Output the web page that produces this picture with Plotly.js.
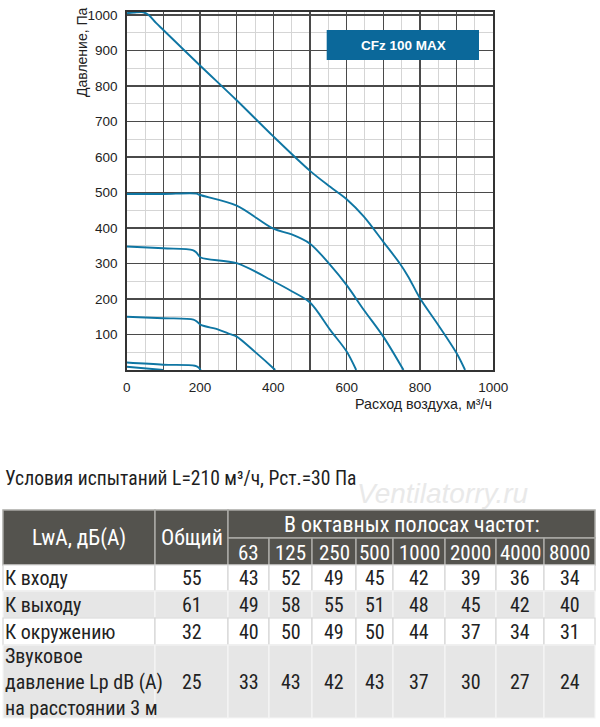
<!DOCTYPE html>
<html>
<head>
<meta charset="utf-8">
<script src="https://cdn.plot.ly/plotly-3.0.1.min.js"></script>
<style>
html,body{margin:0;padding:0;background:#fff;}
#chart{width:600px;height:727px;}
</style>
</head>
<body>
<div id="chart"></div>
<script>
// ---------- Chart data (flow m³/h, pressure Pa) ----------
const curve1Flow = [0, 20, 45, 60, 80, 100, 200, 300, 400, 500, 555, 600, 647, 700, 745, 768, 800, 847, 900, 923];
const curve1Pres = [1005, 1007, 1008, 1000, 978, 958, 858, 760, 658, 561, 516, 481, 432, 361, 300, 263, 202, 131, 47, 0];
const curve2Flow = [0, 100, 190, 200, 300, 400, 450, 500, 555, 600, 647, 700, 755];
const curve2Pres = [496, 496, 497, 493, 463, 398, 382, 356, 296, 239, 169, 94, 0];
const curve3Flow = [0, 100, 180, 190, 202, 300, 400, 450, 500, 555, 600, 626];
const curve3Pres = [348, 343, 338, 331, 317, 301, 250, 222, 190, 113, 52, 0];
const curve4Flow = [0, 100, 182, 192, 202, 250, 282, 300, 350, 400, 405];
const curve4Pres = [150, 146, 142, 136, 127, 114, 101, 94, 51, 5, 0];
const curve5Flow = [0, 100, 186, 196, 202];
const curve5Pres = [21, 15, 12, 7, 0];
const curve6Flow = [0, 100];
const curve6Pres = [9, 0];

const xTickVals = [0, 100, 200, 300, 400, 500, 600, 700, 800, 900, 1000];
const xTickText = ['0', '', '200', '', '400', '', '600', '', '800', '', '1000'];
const yTickVals = [100, 200, 300, 400, 500, 600, 700, 800, 900, 1000];
const yTickText = ['100', '200', '300', '400', '500', '600', '700', '800', '900', '1000'];

const modelLabel = 'CFz 100 MAX';
const xTitle = 'Расход воздуха, м³/ч';
const yTitle = 'Давление, Па';

// ---------- Table data ----------
const tableTitle = 'Условия испытаний L=210 м³/ч, Рст.=30 Па';
const headLwA = 'LwA, дБ(А)';
const headTotal = 'Общий';
const headOctave = 'В октавных полосах частот:';
const freqLabels = ['63', '125', '250', '500', '1000', '2000', '4000', '8000'];
const rowLabels = ['К входу', 'К выходу', 'К окружению', 'Звуковое<br>давление Lp dB (A)<br>на расстоянии 3 м'];
const totals = [55, 61, 32, 25];
const inletValues = [43, 52, 49, 45, 42, 39, 36, 34];
const outletValues = [49, 58, 55, 51, 48, 45, 42, 40];
const surroundValues = [40, 50, 49, 50, 44, 37, 34, 31];
const pressure3mValues = [33, 43, 42, 43, 37, 30, 27, 24];
const rowValues = [inletValues, outletValues, surroundValues, pressure3mValues];
const watermark = 'Ventilatorry.ru';

// ---------- Layout geometry ----------
const W = 600, H = 727;
const px = x => x / W;
const py = y => 1 - y / H;
const plotL = 126.7, plotR = 493.3, plotT = 11.5, plotB = 370;

const colEdges = [3, 155, 228, 269, 312, 356, 393, 445, 496, 544, 595];
const headTop = 510, headMid = 538, headBot = 565;
const rowEdges = [565, 591, 618, 645, 718];
const rowFills = ['#ffffff', '#e6e6e6', '#ffffff', '#e6e6e6'];

const lineColor = '#0f76a3';
const narrow = 'Roboto Condensed, Fira Sans Condensed, DejaVu Sans Condensed, sans-serif';
const sans = 'Liberation Sans, Arial, sans-serif';

function curve(x, y) {
  return {x: x, y: y, type: 'scatter', mode: 'lines', xaxis: 'x', yaxis: 'y',
    line: {color: lineColor, width: 1.9, shape: 'spline', smoothing: 0.9},
    hoverinfo: 'skip', showlegend: false};
}
const traces = [
  curve(curve1Flow, curve1Pres), curve(curve2Flow, curve2Pres), curve(curve3Flow, curve3Pres),
  curve(curve4Flow, curve4Pres), curve(curve5Flow, curve5Pres), curve(curve6Flow, curve6Pres)
];

const shapes = [];
const annotations = [];

function rect(x0, y0, x1, y1, fill, line, lw) {
  shapes.push({type: 'rect', xref: 'paper', yref: 'paper', x0: px(x0), x1: px(x1), y0: py(y0), y1: py(y1),
    fillcolor: fill, line: {color: line, width: lw === undefined ? 1 : lw}, layer: 'above'});
}
function text(t, x, y, opts) {
  opts = opts || {};
  annotations.push(Object.assign({text: t, xref: 'paper', yref: 'paper', x: px(x), y: py(y),
    showarrow: false, xanchor: 'center', yanchor: 'middle', borderpad: 0,
    font: {family: narrow, size: 20, color: '#222'}}, opts));
}

// Model label box
rect(326.7, 30, 479, 60, '#0b689a', '#0b689a', 0);
text('<b>' + modelLabel + '</b>', 403, 45.5, {font: {family: sans, size: 13.5, color: '#ffffff'}});

// Axis titles
text(xTitle, 493, 404, {xanchor: 'right', font: {family: sans, size: 14.3, color: '#222'}});
text(yTitle, 82, 52, {textangle: -90, font: {family: sans, size: 14, color: '#222'}});

// Table title & watermark
text(tableTitle, 4, 478, {xanchor: 'left', font: {family: narrow, size: 19.6, color: '#1e1e1e'}});
text('<i>' + watermark + '</i>', 443, 494, {font: {family: sans, size: 28, color: '#e9e9e9'}});

// Header
const hdrFill = '#54534e', hdrLine = '#a9a9a5';
rect(colEdges[0], headTop, colEdges[1], headBot, hdrFill, hdrLine, 1.5);
rect(colEdges[1], headTop, colEdges[2], headBot, hdrFill, hdrLine, 1.5);
rect(colEdges[2], headTop, colEdges[colEdges.length - 1], headMid, hdrFill, hdrLine, 1.5);
for (let i = 0; i < freqLabels.length; i++) {
  rect(colEdges[i + 2], headMid, colEdges[i + 3], headBot, hdrFill, hdrLine, 1.5);
  text(freqLabels[i], (colEdges[i + 2] + colEdges[i + 3]) / 2, (headMid + headBot) / 2 + 1,
    {font: {family: narrow, size: 21, color: '#ffffff'}});
}
text(headLwA, (colEdges[0] + colEdges[1]) / 2, (headTop + headBot) / 2,
  {font: {family: narrow, size: 21.5, color: '#ffffff'}});
text(headTotal, (colEdges[1] + colEdges[2]) / 2, (headTop + headBot) / 2,
  {font: {family: narrow, size: 22, color: '#ffffff'}});
text(headOctave, (colEdges[2] + colEdges[colEdges.length - 1]) / 2, (headTop + headMid) / 2,
  {font: {family: narrow, size: 22, color: '#ffffff'}});

// Body
for (let r = 0; r < rowLabels.length; r++) {
  const y0 = rowEdges[r], y1 = rowEdges[r + 1], yc = (y0 + y1) / 2;
  const fill = rowFills[r];
  const border = fill === '#ffffff' ? '#d6d6d6' : '#f6f6f6';
  for (let c = 0; c < colEdges.length - 1; c++) {
    rect(colEdges[c], y0, colEdges[c + 1], y1, fill, border, 1.2);
  }
  text(rowLabels[r], 4, yc, {xanchor: 'left', align: 'left'});
  text(String(totals[r]), (colEdges[1] + colEdges[2]) / 2, yc);
  for (let i = 0; i < rowValues[r].length; i++) {
    text(String(rowValues[r][i]), (colEdges[i + 2] + colEdges[i + 3]) / 2, yc);
  }
}

const layout = {
  width: W, height: H,
  margin: {l: 0, r: 0, t: 0, b: 0, pad: 0},
  paper_bgcolor: '#ffffff', plot_bgcolor: '#ffffff',
  showlegend: false,
  xaxis: {
    domain: [px(plotL), px(plotR)], range: [0, 1000], anchor: 'y',
    tickmode: 'array', tickvals: xTickVals, ticktext: xTickText,
    showgrid: true, gridcolor: '#4a4a4a', gridwidth: 1.2,
    minor: {tickmode: 'linear', tick0: 0, dtick: 50, showgrid: true, gridcolor: '#d5d5d5', gridwidth: 1, ticks: ''},
    zeroline: false, showline: true, mirror: true, linecolor: '#333', linewidth: 1.5,
    ticks: '', ticklabelstandoff: 4,
    tickfont: {family: sans, size: 13.5, color: '#222'}, fixedrange: true
  },
  yaxis: {
    domain: [py(plotB), py(plotT)], range: [0, 1010], anchor: 'x',
    tickmode: 'array', tickvals: yTickVals, ticktext: yTickText,
    showgrid: true, gridcolor: '#4a4a4a', gridwidth: 1.2,
    minor: {tickmode: 'linear', tick0: 0, dtick: 50, showgrid: true, gridcolor: '#d5d5d5', gridwidth: 1, ticks: ''},
    zeroline: false, showline: true, mirror: true, linecolor: '#333', linewidth: 1.5,
    ticks: '', ticklabelstandoff: 5,
    tickfont: {family: sans, size: 13.5, color: '#222'}, fixedrange: true
  },
  shapes: shapes,
  annotations: annotations
};

Plotly.newPlot('chart', traces, layout, {staticPlot: true, displayModeBar: false});
</script>
</body>
</html>
